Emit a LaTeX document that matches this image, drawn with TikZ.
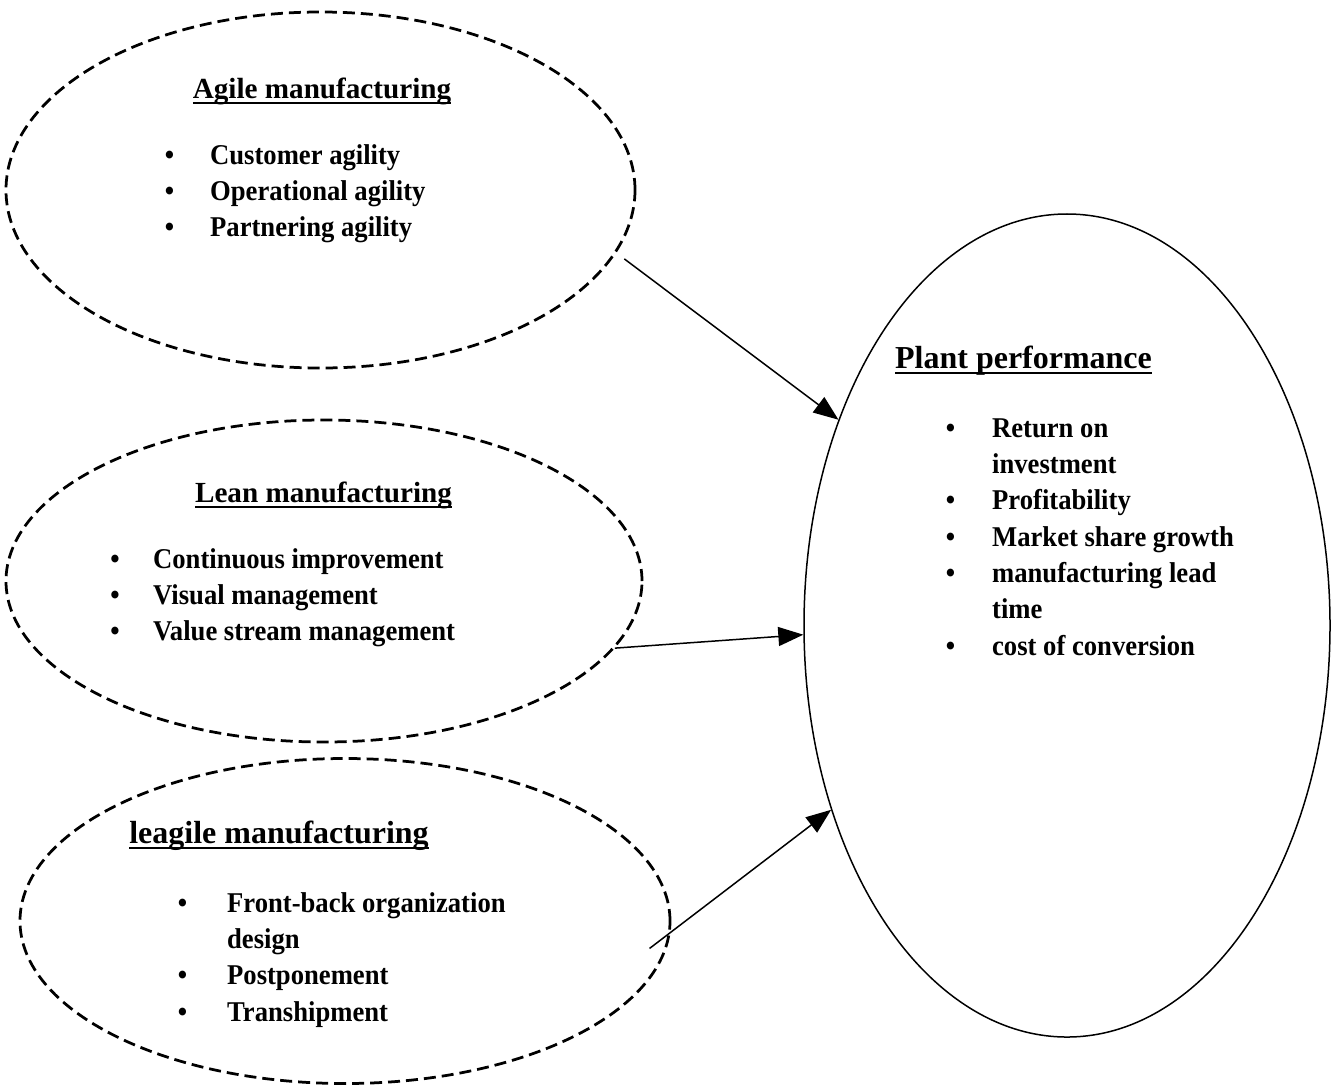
\documentclass[tikz,border=0pt]{standalone}
\usepackage{fontspec}
\setmainfont{Liberation Serif}
\newfontfamily\listfont[FakeStretch=0.93]{Liberation Serif}
\usetikzlibrary{arrows.meta,shapes.geometric}
\newcommand{\undl}[1]{\setbox0=\hbox{#1}\rlap{\vrule width \wd0 height -2.2pt depth 3.2pt}\box0}
\newcommand{\blist}[2]{\begin{tabular}[t]{@{}l@{\hspace{#1}}l@{}}#2\end{tabular}}

\begin{document}
\begin{tikzpicture}[x=0.2mm, y=-0.2mm, >={Triangle[length=5mm,width=3.8mm]},
  area/.style={ellipse, draw, dash pattern=on 2.4mm off 1.2mm, line width=0.55mm, inner sep=0pt},
  goal/.style={ellipse, draw, line width=0.3mm, inner sep=0pt},
  head/.style={anchor=base, inner sep=0pt, font=\bfseries\fontsize{16.6pt}{20pt}\selectfont},
  bighead/.style={head, font=\bfseries\fontsize{18.2pt}{22pt}\selectfont},
  lst/.style={anchor=base west, inner sep=0pt, font=\listfont\bfseries\fontsize{16.3pt}{20.7pt}\selectfont},
  link/.style={->, line width=0.3mm}]
\useasboundingbox (0,0) rectangle (1333,1088);
% the three approaches (dashed)
\node[area, minimum width=125.8mm, minimum height=71.2mm] (agile) at (320.5,190) {};
\node[area, minimum width=127.2mm, minimum height=64.4mm] (lean) at (324,581) {};
\node[area, minimum width=130mm, minimum height=65mm] (leagile) at (345,921) {};
% outcome
\node[goal, minimum width=105.2mm, minimum height=164.6mm] (plant) at (1067,625.5) {};
% titles
\node[head] (agileT) at (322,98) {\undl{Agile manufacturing}};
\node[head] (leanT) at (323.5,502) {\undl{Lean manufacturing}};
\node[bighead] (leagileT) at (279,843) {\undl{leagile manufacturing}};
\node[bighead] (plantT) at (1023.5,368) {\undl{Plant performance}};
% bullet lists
\node[lst] (agileL) at (164.5,164) {\blist{7.2mm}{\textbullet & Customer agility\\ \textbullet & Operational agility\\ \textbullet & Partnering agility}};
\node[lst] (leanL) at (110,568) {\blist{6.7mm}{\textbullet & Continuous improvement\\ \textbullet & Visual management\\ \textbullet & Value stream management}};
\node[lst] (leagileL) at (177.5,912) {\blist{8mm}{\textbullet & Front-back organization\\ & design\\ \textbullet & Postponement\\ \textbullet & Transhipment}};
\node[lst] (plantL) at (945.5,437) {\blist{7.4mm}{\textbullet & Return on\\ & investment\\ \textbullet & Profitability\\ \textbullet & Market share growth\\ \textbullet & manufacturing lead\\ & time\\ \textbullet & cost of conversion}};
% effects on plant performance
\draw[link, shorten <=2mm] (agile.348) -- (plant.138.5);
\draw[link] (lean.347.2) -- (plant.182.3);
\draw[link, shorten <=-5.3mm] (leagile.358.5) -- (plant.218.6);
\end{tikzpicture}
\end{document}
